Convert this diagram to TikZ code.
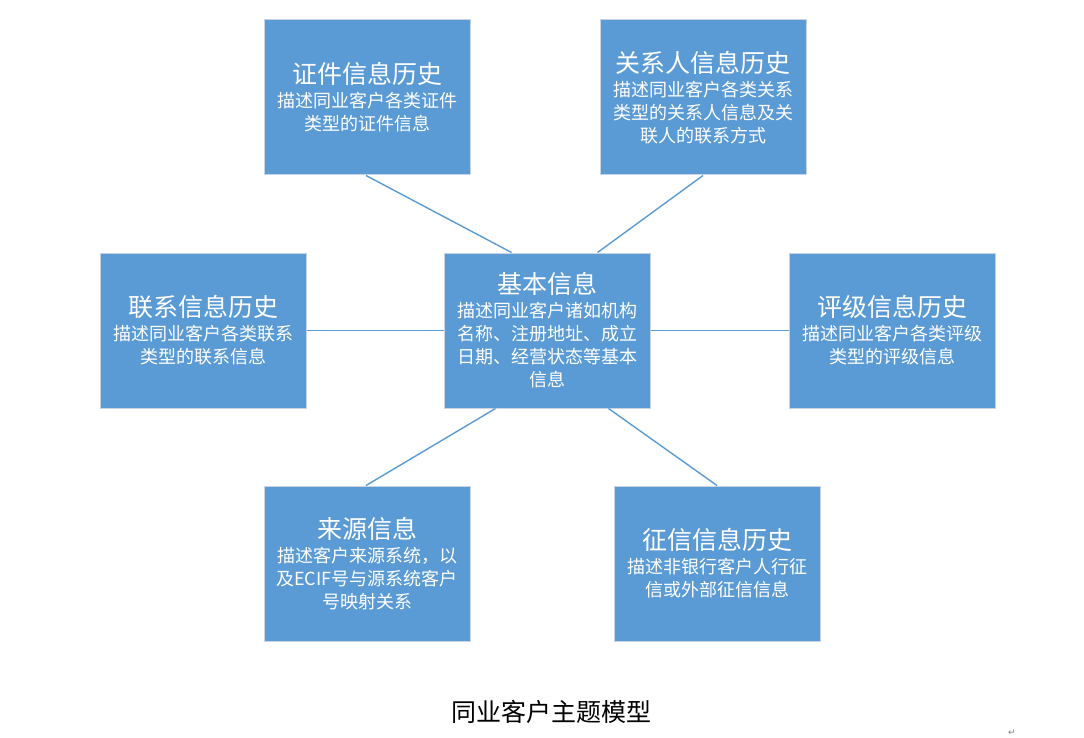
\documentclass[tikz,border=0pt]{standalone}
\usepackage{fontspec}
\newfontfamily\cjk{Noto Sans CJK SC}
\newfontfamily\symfont{DejaVu Sans}
\definecolor{boxblue}{RGB}{91,155,213}
\definecolor{boxedge}{RGB}{200,212,228}
\definecolor{linkblue}{RGB}{91,155,213}
\begin{document}
\begin{tikzpicture}[x=1pt,y=-1pt,
  infobox/.style={rectangle, fill=boxblue, draw=boxedge, line width=1pt,
    minimum width=206pt, minimum height=155pt, inner sep=0pt,
    text=white, align=center, font=\cjk\fontsize{18}{23}\selectfont},
  link/.style={draw=linkblue, line width=1.4pt},
  boxtitle/.style={}]
\useasboundingbox (0,0) rectangle (1084,738);
\newcommand{\bt}[1]{{\fontsize{25}{28}\selectfont #1}\\[1pt]}
\node[infobox] (zj) at (367,97.5) {\bt{证件信息历史}描述同业客户各类证件\\类型的证件信息};
\node[infobox] (gx) at (703,97.5) {\bt{关系人信息历史}描述同业客户各类关系\\类型的关系人信息及关\\联人的联系方式};
\node[infobox] (lx) at (203,330.5) {\bt{联系信息历史}描述同业客户各类联系\\类型的联系信息};
\node[infobox] (jb) at (547,330.5) {\bt{基本信息}描述同业客户诸如机构\\名称、注册地址、成立\\日期、经营状态等基本\\信息};
\node[infobox] (pj) at (892,330.5) {\bt{评级信息历史}描述同业客户各类评级\\类型的评级信息};
\node[infobox] (ly) at (367,563.5) {\bt{来源信息}描述客户来源系统，以\\及ECIF号与源系统客户\\号映射关系};
\node[infobox] (zx) at (717,563.5) {\bt{征信信息历史}描述非银行客户人行征\\信或外部征信信息};
\draw[link] ([xshift=-1pt]zj.south) -- ([xshift=68pt]jb.north west);
\draw[link] (gx.south) -- ([xshift=154pt]jb.north west);
\draw[link] (lx.east) -- (jb.west);
\draw[link] (jb.east) -- (pj.west);
\draw[link] ([xshift=52pt]jb.south west) -- ([xshift=-1pt]ly.north);
\draw[link] ([xshift=165pt]jb.south west) -- (zx.north);
\node[font=\cjk\fontsize{25}{28}\selectfont, text=black] (cap) at (551,712) {同业客户主题模型};
\node[font=\symfont\fontsize{9}{10}\selectfont, text=gray] (pm) at (1012,733) {↵};
\end{tikzpicture}
\end{document}
